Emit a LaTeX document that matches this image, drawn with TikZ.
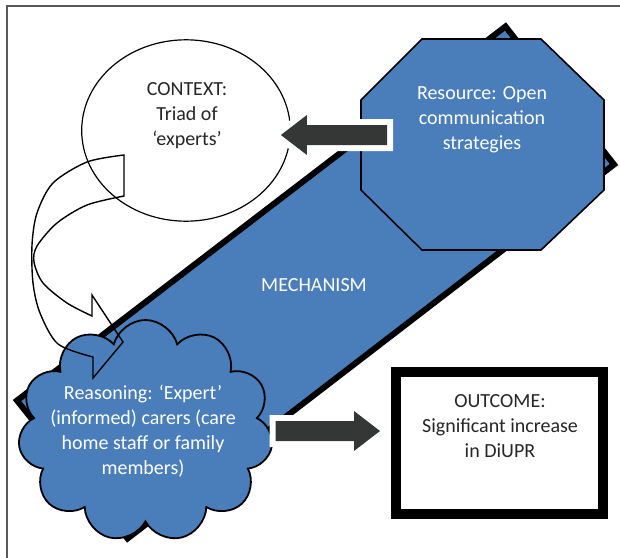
\documentclass[tikz,border=0pt]{standalone}
\usepackage{fontspec}
\setmainfont{Carlito}
\usetikzlibrary{shapes,calc}

\definecolor{mechblue}{HTML}{4A7EBB}
\definecolor{arrowgray}{HTML}{353737}
\definecolor{framegray}{HTML}{595959}

\tikzset{
  wtext/.style={text=white, align=center, font=\fontsize{10}{12.5}\selectfont},
  btext/.style={text=black!85, align=center, font=\fontsize{10}{12.5}\selectfont},
  mechbox/.style={draw=black, line width=3pt, fill=mechblue, line join=miter},
  resbox/.style={draw=black, line width=0.8pt, fill=mechblue},
  ctxbox/.style={ellipse, draw=black, line width=0.6pt, fill=white, minimum width=104.3pt, minimum height=90.7pt},
  rsnbox/.style={cloud, cloud puffs=11, cloud ignores aspect, draw=black, line width=0.9pt, fill=mechblue, minimum width=127.5pt, minimum height=111pt},
  outbox/.style={rectangle, draw=black, line width=5pt, fill=white, minimum width=103.5pt, minimum height=71pt},
  fatarrow/.style={fill=arrowgray, preaction={draw=white, line width=6pt, line join=miter}},
  curvearrow/.style={draw=black, line width=0.7pt, line join=miter}
}

% block arrow from tail (#1) to tip (#2), kept horizontal
\newcommand{\blockarrow}[2]{%
  \path[fatarrow] let \p1=(#1), \p2=(#2), \n1={ifthenelse(\x2>\x1,1,-1)} in
    (\x1,{\y1+5pt}) -- ({\x2-\n1*13pt},{\y1+5pt}) -- ({\x2-\n1*13pt},{\y1+10pt})
    -- (\x2,\y1) -- ({\x2-\n1*13pt},{\y1-10pt}) -- ({\x2-\n1*13pt},{\y1-5pt})
    -- (\x1,{\y1-5pt}) -- cycle;}

\begin{document}
\begin{tikzpicture}[x=0.5pt, y=-0.5pt]
  \useasboundingbox (0,0) rectangle (620,557);
  % frame
  \draw[framegray, line width=1pt] (640,6) -- (7,6) -- (7,600);

  % mechanism band
  \draw[mechbox] (17,400.5) -- (505.5,26.5) -- (614,164.5) -- (127.5,538.5) -- cycle;
  \node[wtext] (mech) at (314,285) {MECHANISM};

  % resource
  \draw[resbox] (422,39) -- (541,39) -- (604,100) -- (604,190) -- (541,250) -- (422,250) -- (361,190) -- (361,100) -- cycle;
  \node[wtext] (res) at (482,120) {Resource: Open\\communication\\strategies};

  % context
  \node[ctxbox] (ctx) at (186,130.5) {};
  \node[btext] (ctxtxt) at (187,116) {CONTEXT:\\Triad of\\‘experts’};

  % reasoning
  \node[rsnbox] (rsn) at (145.5,431) {};
  \node[wtext] (rsntxt) at (143,431) {Reasoning: ‘Expert’\\(informed) carers (care\\home staff or family\\members)};

  % outcome
  \node[outbox] (out) at (499.5,443) {};
  \node[btext] (outtxt) at (500,426) {OUTCOME:\\Significant increase\\in DiUPR};

  % block arrows
  \coordinate (restail) at (387,135);
  \coordinate (ctxtip) at ([xshift=-5pt]ctx.east);
  \blockarrow{restail}{ctxtip}
  \coordinate (rsntail) at ([xshift=2.5pt]rsn.east);
  \coordinate (outtip) at ([xshift=-5.5pt]out.west);
  \blockarrow{rsntail}{outtip}

  % curved arrow context -> reasoning
  \draw[curvearrow] plot[smooth] coordinates {(124,155) (87,162) (53,183) (37,213) (32,245) (33,283) (40,313) (58,344) (93,357)}
    -- (93,378) -- (123,342) -- (92,295)
    -- plot[smooth] coordinates {(92,316) (67,303) (43,283) (34,262) (37,246) (57,223) (87,205) (124,196)} -- cycle;
\end{tikzpicture}
\end{document}
